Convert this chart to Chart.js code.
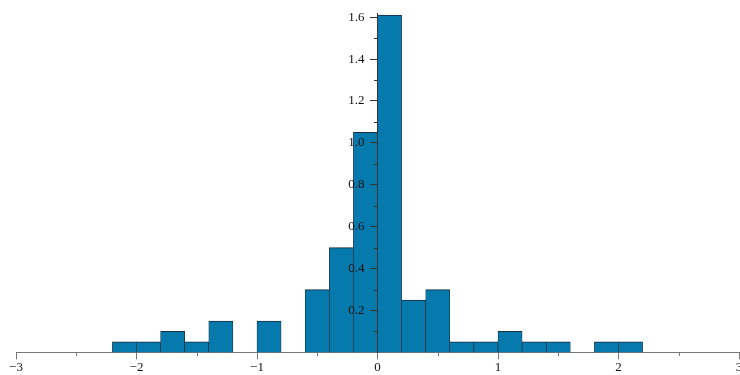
<!DOCTYPE html>
<html lang="en">
<head>
    <meta charset="UTF-8">
    <title>Histogram</title>
    <script src="https://cdn.jsdelivr.net/npm/chart.js"></script>
    <style>
        body { margin: 0; background: #fff; }
        #wrap { width: 740px; height: 375px; }
    </style>
</head>
<body>
<div id="wrap">
    <canvas id="myChart"></canvas>
</div>
<script>
    // lower edge of each bin (width 0.2) and density
    const binEdges = [-2.2, -2.0, -1.8, -1.6, -1.4, -1.2, -1.0, -0.8, -0.6, -0.4, -0.2,
                      0.0, 0.2, 0.4, 0.6, 0.8, 1.0, 1.2, 1.4, 1.6, 1.8, 2.0]
    const density = [0.05, 0.05, 0.10, 0.05, 0.15, null, 0.15, null, 0.30, 0.50, 1.05,
                     1.61, 0.25, 0.30, 0.05, 0.05, 0.10, 0.05, 0.05, null, 0.05, 0.05]
    const binWidth = 0.2
    const xTicks = [-3, -2, -1, 0, 1, 2, 3]
    const yTicks = [0.2, 0.4, 0.6, 0.8, 1.0, 1.2, 1.4, 1.6]

    const points = binEdges.map((e, i) => ({ x: +(e + binWidth / 2).toFixed(2), y: density[i] }))
    const font = { family: "'Liberation Serif', serif", size: 13 }

    // small in-between ticks (every 0.5 on x, every 0.1 on y)
    const minorTicks = {
        id: 'minorTicks',
        afterDraw(chart) {
            const ctx = chart.ctx
            const xs = chart.scales.x, ys = chart.scales.y
            const x0 = Math.round(xs.getPixelForValue(0)), y0 = Math.round(ys.getPixelForValue(0))
            ctx.save()
            ctx.lineWidth = 1
            ctx.strokeStyle = '#777'
            for (let v = -2.5; v < 3; v += 1) {
                const px = Math.round(xs.getPixelForValue(v)) + 0.5
                ctx.beginPath(); ctx.moveTo(px, y0); ctx.lineTo(px, y0 + 4); ctx.stroke()
            }
            ctx.strokeStyle = '#333'
            for (let v = 0.1; v < 1.6; v += 0.2) {
                const py = Math.round(ys.getPixelForValue(v)) + 0.5
                ctx.beginPath(); ctx.moveTo(x0 - 4, py); ctx.lineTo(x0, py); ctx.stroke()
            }
            ctx.restore()
        }
    }

    new Chart(document.getElementById('myChart'), {
        type: 'bar',
        data: {
            datasets: [{
                data: points,
                backgroundColor: '#0679ad',
                borderColor: '#1b2d3c',
                borderWidth: { top: 1, bottom: 0, left: 0.7, right: 0.7 },
                borderSkipped: false,
                barPercentage: 1,
                categoryPercentage: 1
            }]
        },
        options: {
            responsive: true,
            maintainAspectRatio: false,
            animation: false,
            layout: { padding: { left: 16, right: 1, top: 13, bottom: 0 } },
            plugins: { legend: { display: false }, tooltip: { enabled: false } },
            scales: {
                x: {
                    type: 'linear',
                    min: -3,
                    max: 3,
                    offset: false,
                    afterBuildTicks: s => { s.ticks = xTicks.map(v => ({ value: v })) },
                    afterFit: s => { s.paddingLeft = 0; s.paddingRight = 0 },
                    grid: { display: true, offset: false, drawOnChartArea: false, tickLength: 7, color: '#777', tickColor: '#777' },
                    border: { color: '#777', width: 1 },
                    ticks: {
                        font: font,
                        color: '#111',
                        padding: 0,
                        maxRotation: 0,
                        autoSkip: false,
                        callback: v => v < 0 ? '\u2212' + Math.abs(v) : String(v)
                    }
                },
                y: {
                    min: 0,
                    max: 1.62,
                    position: { x: 0 },
                    afterBuildTicks: s => { s.ticks = yTicks.map(v => ({ value: v })) },
                    grid: { display: true, drawOnChartArea: false, tickLength: 7, color: '#333', tickColor: '#333', z: 1 },
                    border: { color: '#333', width: 1, z: 1 },
                    ticks: {
                        font: font,
                        color: '#111',
                        autoSkip: false,
                        z: 1,
                        // en spaces keep the right-aligned label clear of the tick marks
                        callback: v => v.toFixed(1) + '\u2002\u2002'
                    }
                }
            }
        },
        plugins: [minorTicks]
    })
</script>
</body>
</html>
